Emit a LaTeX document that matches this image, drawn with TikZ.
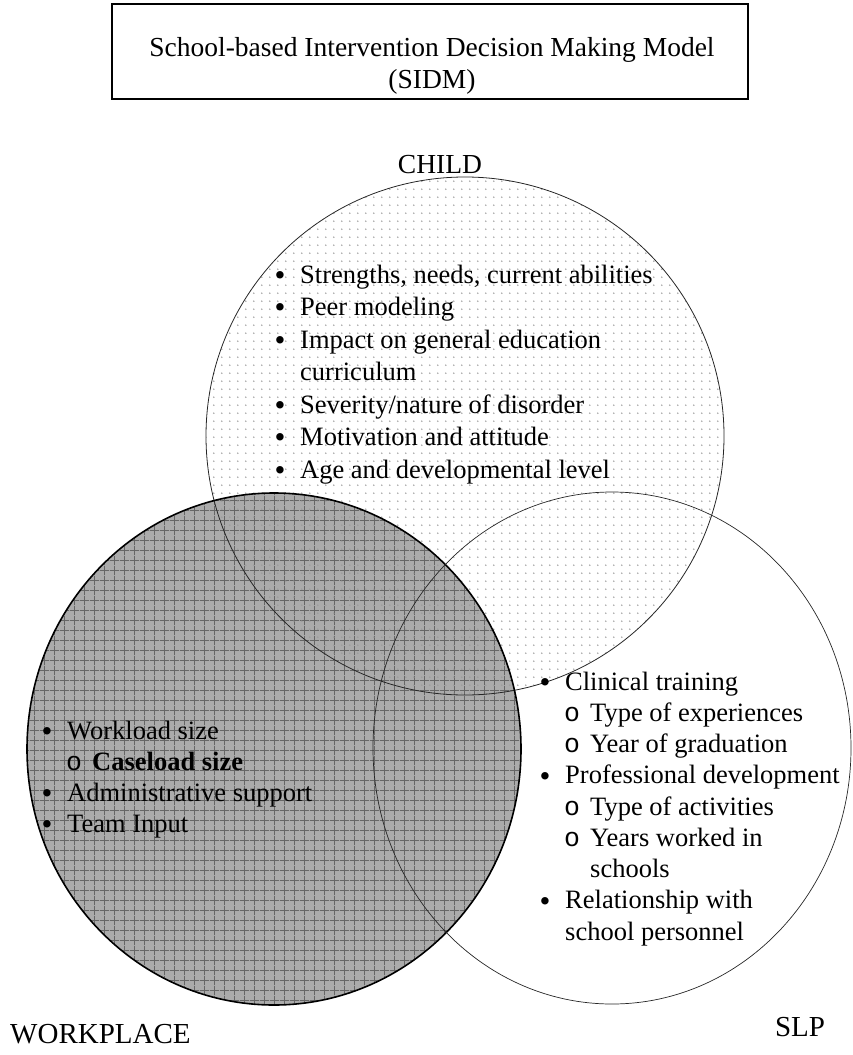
\documentclass[tikz,border=0pt]{standalone}
\usepackage{fontspec}
\setmainfont{Liberation Serif}
\newfontfamily\monofont{Liberation Mono}
\usetikzlibrary{patterns}

\definecolor{dotgray}{HTML}{9A9A9A}
\definecolor{workgray}{HTML}{ABABAB}
\definecolor{gridgray}{HTML}{666666}

% fill patterns of the two shaded circles
\pgfdeclarepatternformonly{childdots}{\pgfpointorigin}{\pgfpoint{7.8pt}{7.8pt}}{\pgfpoint{7.8pt}{7.8pt}}{%
  \pgfpathcircle{\pgfpoint{3.9pt}{3.9pt}}{0.85pt}\pgfusepath{fill}}
\pgfdeclarepatternformonly{workgrid}{\pgfpointorigin}{\pgfpoint{10pt}{10pt}}{\pgfpoint{10pt}{10pt}}{%
  \pgfsetlinewidth{0.9pt}%
  \pgfpathmoveto{\pgfpoint{0pt}{5pt}}\pgfpathlineto{\pgfpoint{10pt}{5pt}}%
  \pgfpathmoveto{\pgfpoint{5pt}{0pt}}\pgfpathlineto{\pgfpoint{5pt}{10pt}}%
  \pgfusepath{stroke}}

\newcommand{\bul}{\raisebox{-2.3pt}{•}}

\tikzset{
  txt/.style={font=\fontsize{26.5}{31}\selectfont, inner sep=0pt, anchor=base west},
  dot/.style={font=\fontsize{31}{31}\selectfont, inner sep=0pt, anchor=base},
  sub/.style={font=\fontsize{26.5}{31}\monofont, inner sep=0pt, anchor=base},
  setlabel/.style={font=\fontsize{27.5}{31}\selectfont, inner sep=0pt, anchor=base},
  biglabel/.style={font=\fontsize{29}{31}\selectfont, inner sep=0pt, anchor=base}
}

\begin{document}
\begin{tikzpicture}[x=1pt,y=-1pt]
\useasboundingbox (0,0) rectangle (852,1055);

% shaded circles
\fill[workgray] (274,749) ellipse [x radius=247pt, y radius=256pt];
\fill[pattern=workgrid, pattern color=gridgray] (274,749) ellipse [x radius=247pt, y radius=256pt];
\fill[pattern=childdots, pattern color=dotgray] (465,436) circle (259pt);

% outlines
\draw[line width=0.8pt, black!85] (465,436) circle (259pt);
\draw[line width=1.6pt] (274,749) ellipse [x radius=247pt, y radius=256pt];
\draw[line width=0.7pt, black!85] (612,748) ellipse [x radius=239pt, y radius=256pt];

% title
\draw[line width=1.8pt] (112,4) rectangle (748,99);
\node[setlabel] (title1) at (432,56) {School-based Intervention Decision Making Model};
\node[setlabel] (title2) at (432,88) {(SIDM)};

% set names
\node[setlabel] (child) at (440,173) {CHILD};
\node[biglabel, anchor=base west] (work) at (10,1043) {WORKPLACE};
\node[biglabel] (slp) at (800,1036) {SLP};

% child list
\node[dot] (cb1) at (280,283)   {\bul};
\node[txt] (c1)  at (300,283)   {Strengths, needs, current abilities};
\node[dot] (cb2) at (280,315.5) {\bul};
\node[txt] (c2)  at (300,315.5) {Peer modeling};
\node[dot] (cb3) at (280,348)   {\bul};
\node[txt] (c3)  at (300,348)   {Impact on general education};
\node[txt] (c3b) at (300,380.5) {curriculum};
\node[dot] (cb4) at (280,413)   {\bul};
\node[txt] (c4)  at (300,413)   {Severity/nature of disorder};
\node[dot] (cb5) at (280,445.5) {\bul};
\node[txt] (c5)  at (300,445.5) {Motivation and attitude};
\node[dot] (cb6) at (280,478)   {\bul};
\node[txt] (c6)  at (300,478)   {Age and developmental level};

% workplace list
\node[dot] (wb1) at (47,739) {\bul};
\node[txt] (w1)  at (67,739) {Workload size};
\node[sub] (wo2) at (74,770) {o};
\node[txt] (w2)  at (92,770) {\textbf{Caseload size}};
\node[dot] (wb3) at (47,801) {\bul};
\node[txt] (w3)  at (67,801) {Administrative support};
\node[dot] (wb4) at (47,832) {\bul};
\node[txt] (w4)  at (67,832) {Team Input};

% slp list
\node[dot] (sb1) at (545,690)    {\bul};
\node[txt] (s1)  at (565,690)    {Clinical training};
\node[sub] (so2) at (572,721.25) {o};
\node[txt] (s2)  at (590,721.25) {Type of experiences};
\node[sub] (so3) at (572,752.5)  {o};
\node[txt] (s3)  at (590,752.5)  {Year of graduation};
\node[dot] (sb4) at (545,783.75) {\bul};
\node[txt] (s4)  at (565,783.75) {Professional development};
\node[sub] (so5) at (572,815)    {o};
\node[txt] (s5)  at (590,815)    {Type of activities};
\node[sub] (so6) at (572,846.25) {o};
\node[txt] (s6)  at (590,846.25) {Years worked in};
\node[txt] (s6b) at (590,877.5)  {schools};
\node[dot] (sb7) at (545,908.75) {\bul};
\node[txt] (s7)  at (565,908.75) {Relationship with};
\node[txt] (s7b) at (565,940)    {school personnel};
\end{tikzpicture}
\end{document}
